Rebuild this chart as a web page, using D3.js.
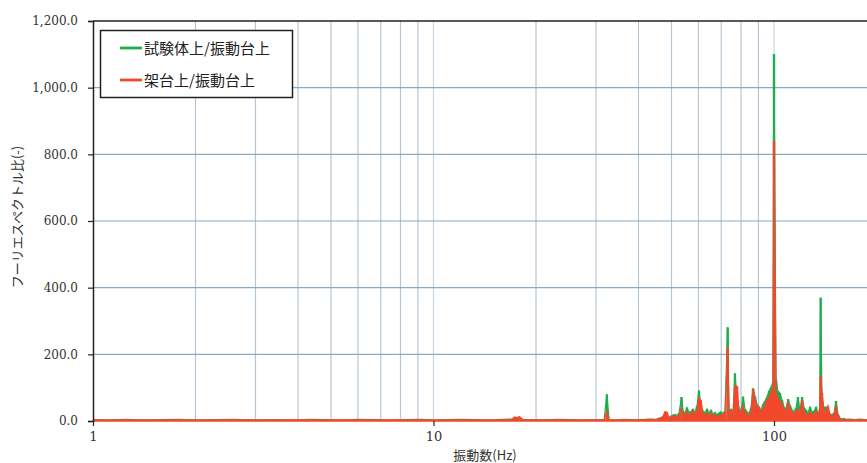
<!DOCTYPE html>
<html>
<head>
<meta charset="utf-8">
<script src="https://cdn.jsdelivr.net/npm/d3@7"></script>
<style>
  html, body { margin: 0; padding: 0; background: #fff; }
  svg { display: block; }
</style>
</head>
<body>
<svg id="chart" width="867" height="463"></svg>
<script>
// ---- data ----
const seriesNames = ["試験体上/振動台上", "架台上/振動台上"];
const seriesColors = ["#1fae4f", "#f2482c"];
const yTicks = [0, 200, 400, 600, 800, 1000, 1200];
const xTickLabels = [1, 10, 100];
const xGridValues = [2,3,4,5,6,7,8,9,10,20,30,40,50,60,70,80,90,100,200,300,400,500,600,700,800,900];

const freqs = [
  1.0,1.1,1.25,1.4,1.6,1.8,2.0,2.3,2.6,3.0,
  3.4,3.8,4.3,4.8,5.4,6.0,6.7,7.5,8.3,9.2,
  10.0,11.0,12.0,13.2,14.5,16.0,17.0,17.3,17.6,17.9,
  18.3,19.5,21.0,23.0,25.0,27.0,29.0,30.5,31.7,32.3,
  32.8,34.0,36.0,38.0,40.0,42.0,43.5,
  44.7,45.3,45.9,46.6,47.2,47.9,48.5,49.2,49.8,50.5,
  51.2,51.9,52.6,53.5,54.1,54.8,55.5,56.3,57.0,57.8,
  58.6,59.4,60.2,61.0,61.9,62.7,63.6,64.4,65.3,66.2,
  67.1,68.0,68.9,69.9,70.8,71.8,73.1,73.8,74.8,75.8,
  76.8,77.9,78.9,80.0,81.1,82.2,83.3,84.5,85.6,86.8,
  88.0,89.2,90.4,91.6,92.9,94.1,95.4,96.7,98.0,99.3,
  100.0,101.4,102.7,104.1,105.6,107.0,108.5,110.0,111.4,113.0,
  114.5,116.1,117.6,119.2,120.9,122.5,124.2,125.9,127.6,129.4,
  131.1,132.9,134.7,136.5,137.1,138.4,140.3,142.2,144.1,146.0,
  148.0,150.1,152.1,154.2,156.3,158.4,160.5,162.7,167.2,172.9,
  178.9,185.0,191.3
];
const ratioSpecimen = [
  4,3,5,3,4,5,3,4,5,3,
  4,3,5,4,3,5,4,3,4,5,
  3,4,5,4,3,5,6,9,8,10,
  5,4,3,5,4,3,4,3,5,80,
  4,3,5,4,3,5,6,
  5,6,8,10,12,20,14,10,15,18,
  20,16,24,72,30,22,40,26,28,36,
  24,45,91,40,30,24,36,22,33,20,
  26,18,24,28,22,30,281,30,36,24,
  143,60,40,28,73,36,28,22,40,98,
  73,50,38,32,51,60,73,90,101,115,
  1100,125,90,84,63,42,36,66,48,33,
  28,40,72,30,72,40,33,24,42,26,
  30,42,22,30,370,60,40,42,30,22,
  18,24,60,20,8,6,8,5,6,4,
  6,4,5
];
const ratioFrame = [
  2,2,3,2,2,3,2,2,3,2,
  2,3,2,2,3,2,2,3,2,2,
  2,3,2,3,2,3,4,12,10,13,
  3,2,3,2,3,2,3,2,3,27,
  3,2,3,2,3,4,5,
  4,5,7,9,14,28,26,8,12,14,
  16,12,18,38,22,16,28,20,18,30,
  16,34,68,62,22,18,24,14,26,14,
  18,12,16,20,18,26,221,24,32,20,
  105,104,34,22,45,24,20,16,30,96,
  62,40,43,26,36,48,63,70,84,99,
  840,84,66,63,50,36,28,54,40,26,
  22,30,36,24,63,30,20,18,28,18,
  20,30,16,40,135,84,30,28,45,20,
  14,20,43,15,6,5,4,4,4,3,
  3,3,3
];

// ---- layout ----
const W = 867, H = 463;
const plotLeft = 93, plotTop = 21, plotBottom = 421;
const decade = 340.5;
const svg = d3.select("#chart");

const x = d3.scaleLog().domain([1, 1000]).range([plotLeft, plotLeft + 3 * decade]);
const y = d3.scaleLinear().domain([0, 1200]).range([plotBottom, plotTop]);

const serif = "'DejaVu Serif', 'Liberation Serif', serif";
const cjk = "'Noto Sans CJK JP', 'Noto Sans', sans-serif";

// clip
svg.append("defs").append("clipPath").attr("id", "plotclip")
  .append("rect").attr("x", plotLeft).attr("y", plotTop - 2)
  .attr("width", W - plotLeft).attr("height", plotBottom - plotTop + 4);

// vertical grid
svg.append("g").selectAll("line").data(xGridValues).join("line")
  .attr("x1", d => x(d)).attr("x2", d => x(d))
  .attr("y1", plotTop).attr("y2", plotBottom)
  .attr("stroke", d => (d === 10 || d === 100) ? "#c6d7e4" : "#b5c7d6")
  .attr("stroke-width", 1.2);

// horizontal grid
svg.append("g").selectAll("line").data(yTicks.filter(v => v > 0 && v < 1200)).join("line")
  .attr("x1", plotLeft).attr("x2", W)
  .attr("y1", d => y(d)).attr("y2", d => y(d))
  .attr("stroke", "#8aa9c2").attr("stroke-width", 1.2);

// top border
svg.append("line").attr("x1", plotLeft).attr("x2", W)
  .attr("y1", y(1200)).attr("y2", y(1200))
  .attr("stroke", "#222").attr("stroke-width", 1.5);

// data
const data = freqs.map((f, i) => ({ f, g: ratioSpecimen[i], r: ratioFrame[i] }));
const plotG = svg.append("g").attr("clip-path", "url(#plotclip)");

function drawSeries(key, color, width) {
  const gg = plotG.append("g");
  gg.selectAll("line").data(data).join("line")
    .attr("x1", d => x(d.f)).attr("x2", d => x(d.f))
    .attr("y1", y(0)).attr("y2", d => y(d[key]))
    .attr("stroke", color).attr("stroke-width", width);
  gg.append("path").datum(data)
    .attr("d", d3.line().x(d => x(d.f)).y(d => y(d[key])))
    .attr("fill", "none").attr("stroke", color).attr("stroke-width", 1.2);
}
drawSeries("g", seriesColors[0], 2.4);
drawSeries("r", seriesColors[1], 2.4);

// red baseline
plotG.append("line").attr("x1", plotLeft).attr("x2", W)
  .attr("y1", y(0) - 0.5).attr("y2", y(0) - 0.5)
  .attr("stroke", seriesColors[1]).attr("stroke-width", 2.6);

// y axis
const yAxis = d3.axisLeft(y).tickValues(yTicks).tickSize(5).tickPadding(10)
  .tickFormat(d => d3.format(",.1f")(d));
const yg = svg.append("g").attr("transform", `translate(${plotLeft},0)`).call(yAxis);
yg.select(".domain").attr("stroke", "#222").attr("stroke-width", 1.5);
yg.selectAll(".tick line").attr("stroke", "#222").attr("stroke-width", 1.2);
yg.selectAll("text").attr("font-family", serif).attr("font-size", "12px").attr("fill", "#333");

// x axis ticks (labels 1,10,100)
const xAxis = d3.axisBottom(x).tickValues(xTickLabels).tickSize(5).tickPadding(6)
  .tickFormat(d3.format("d"));
const xg = svg.append("g").attr("transform", `translate(0,${plotBottom})`).call(xAxis);
xg.select(".domain").remove();
xg.selectAll(".tick line").attr("stroke", "#222").attr("stroke-width", 1.2);
xg.selectAll("text").attr("font-family", serif).attr("font-size", "13px").attr("fill", "#333");

// axis titles
svg.append("text")
  .attr("transform", "translate(22,217) rotate(-90)")
  .attr("text-anchor", "middle")
  .attr("font-family", cjk).attr("font-size", "13px").attr("fill", "#333")
  .text("フーリエスペクトル比(-)");
svg.append("text")
  .attr("x", 485).attr("y", 460).attr("text-anchor", "middle")
  .attr("font-family", cjk).attr("font-size", "13px").attr("fill", "#333")
  .text("振動数(Hz)");

// legend
const lg = svg.append("g");
lg.append("rect").attr("x", 100.5).attr("y", 30.5).attr("width", 192).attr("height", 67)
  .attr("fill", "#fff").attr("stroke", "#222").attr("stroke-width", 1.5);
const legY = [48, 80];
seriesNames.forEach((name, i) => {
  lg.append("line").attr("x1", 120).attr("x2", 142)
    .attr("y1", legY[i]).attr("y2", legY[i])
    .attr("stroke", seriesColors[i]).attr("stroke-width", 2.8);
  lg.append("text").attr("x", 144).attr("y", legY[i] + 5.5)
    .attr("font-family", cjk).attr("font-size", "15px").attr("fill", "#222")
    .text(name);
});
</script>
</body>
</html>
